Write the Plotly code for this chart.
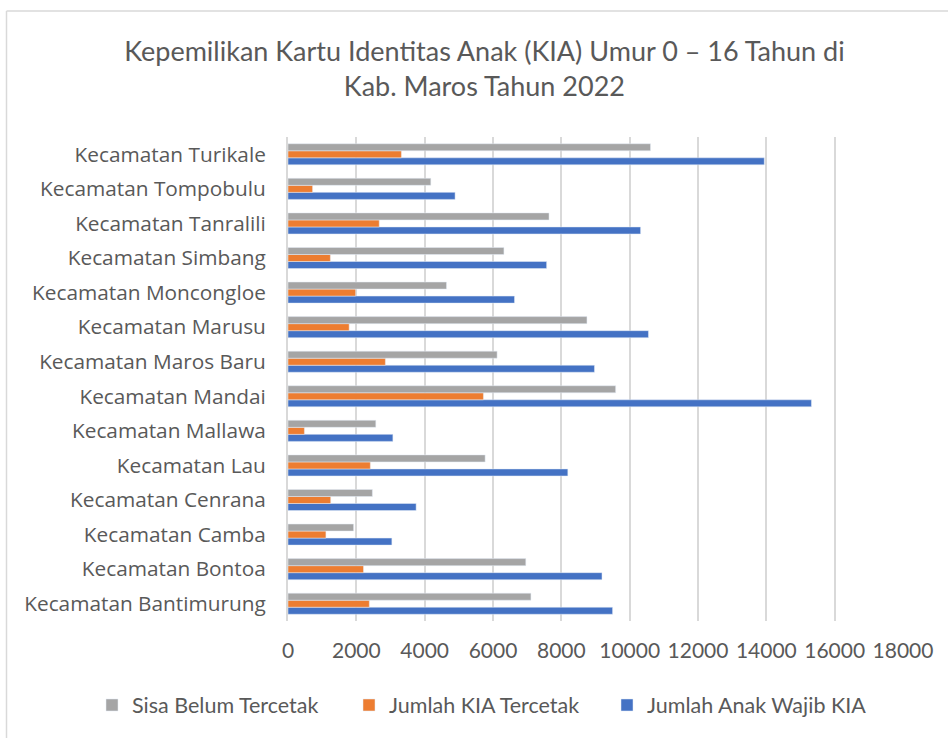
import plotly.graph_objects as go

# Districts (bottom to top on the category axis)
kecamatan = [
    "Kecamatan Bantimurung", "Kecamatan Bontoa", "Kecamatan Camba",
    "Kecamatan Cenrana", "Kecamatan Lau", "Kecamatan Mallawa",
    "Kecamatan Mandai", "Kecamatan Maros Baru", "Kecamatan Marusu",
    "Kecamatan Moncongloe", "Kecamatan Simbang", "Kecamatan Tanralili",
    "Kecamatan Tompobulu", "Kecamatan Turikale",
]

wajib_kia = [9500, 9190, 3040, 3750, 8190, 3070, 15320, 8970, 10550,
             6630, 7570, 10320, 4890, 13940]
kia_tercetak = [2380, 2210, 1110, 1250, 2410, 480, 5720, 2850, 1790,
                1980, 1240, 2670, 720, 3320]
sisa_belum = [7110, 6960, 1920, 2470, 5770, 2570, 9590, 6120, 8750,
              4640, 6320, 7640, 4180, 10610]

x_ticks = [0, 2000, 4000, 6000, 8000, 10000, 12000, 14000, 16000, 18000]

TEXT = "#595959"
GRID = "#d9d9d9"
BODY = "Lato, sans-serif"

fig = go.Figure()
fig.add_trace(go.Bar(y=kecamatan, x=wajib_kia, orientation="h",
                     name="Jumlah Anak Wajib KIA", marker_color="#4472C4",
                     legend="legend3"))
fig.add_trace(go.Bar(y=kecamatan, x=kia_tercetak, orientation="h",
                     name="Jumlah KIA Tercetak", marker_color="#ED7D31",
                     legend="legend2"))
fig.add_trace(go.Bar(y=kecamatan, x=sisa_belum, orientation="h",
                     name="Sisa Belum Tercetak", marker_color="#A5A5A5",
                     legend="legend"))

# one legend box per series, laid out in a row under the axis
legend_style = dict(
    orientation="h", xref="container", xanchor="left",
    y=0.0447, yref="container", yanchor="middle",
    font=dict(family=BODY, size=21.5, color=TEXT),
    bgcolor="rgba(0,0,0,0)",
)

fig.update_layout(
    width=948, height=738,
    margin=dict(l=288, r=45, t=137, b=117, autoexpand=False),
    paper_bgcolor="white", plot_bgcolor="white",
    barmode="group", bargap=0.39, bargroupgap=0,
    title=dict(
        text="Kepemilikan Kartu Identitas Anak (KIA) Umur 0 – 16 Tahun di<br>Kab. Maros Tahun 2022",
        x=0.511, xref="container", xanchor="center",
        y=0.918, yref="container", yanchor="middle",
        font=dict(family=BODY, size=27, color=TEXT),
    ),
    xaxis=dict(
        range=[0, 18000], tickvals=x_ticks, ticktext=[str(v) for v in x_ticks],
        showgrid=True, gridcolor=GRID, gridwidth=2, zeroline=False,
        ticks="outside", ticklen=11, tickcolor="rgba(0,0,0,0)",
        tickfont=dict(family=BODY, size=21, color=TEXT),
        fixedrange=True,
    ),
    yaxis=dict(
        categoryorder="array", categoryarray=kecamatan,
        showline=True, linecolor=GRID, linewidth=2,
        showgrid=False, ticks="outside", ticklen=16, tickcolor="rgba(0,0,0,0)",
        tickfont=dict(family="Open Sans, sans-serif", size=20.8, color=TEXT),
        fixedrange=True,
    ),
    legend=dict(x=92 / 948, **legend_style),
    legend2=dict(x=349 / 948, **legend_style),
    legend3=dict(x=607 / 948, **legend_style),
    showlegend=True,
)

# chart-area frame (left and top edges)
frame_x = (6.5 - 288) / 615
frame_top = (738 - 11 - 117) / 484
fig.add_shape(type="line", xref="paper", yref="paper",
              x0=frame_x, x1=frame_x, y0=frame_top, y1=-117 / 484 - 0.01,
              line=dict(color=GRID, width=1.5))
fig.add_shape(type="line", xref="paper", yref="paper",
              x0=frame_x, x1=(948 - 288) / 615 + 0.01, y0=frame_top, y1=frame_top,
              line=dict(color=GRID, width=1.5))

fig.write_html("out.html")
